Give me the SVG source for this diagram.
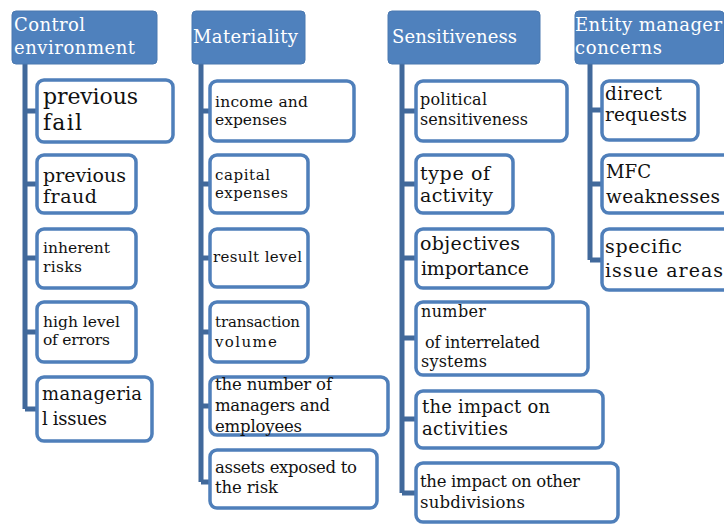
<svg xmlns="http://www.w3.org/2000/svg" width="724" height="525" viewBox="0 0 724 525">
<style>
.hd{fill:#4f81bd;stroke:#4a78b0;stroke-width:1}
.bx{fill:#fff;stroke:#4f7fba;stroke-width:3.5}
.ln{fill:none;stroke:#41699b;stroke-width:5}
text{font-family:"DejaVu Serif","Liberation Serif",serif}
.ht{font-size:18px;fill:#fff}
.t{fill:#111}
</style>
<rect width="724" height="525" fill="#fff"/>
<g id="connectors">
<path class="ln" d="M25 64V409M25 111H37M25 184H37M25 258H37M25 332H37M25 409H37"/>
<path class="ln" d="M201 64V482M201 111H210M201 184H210M201 258H210M201 332H210M201 406H210M201 482H210"/>
<path class="ln" d="M402 64V493M402 111H416M402 184H416M402 258H416M402 338H416M402 419H416M402 493H416"/>
<path class="ln" d="M590 64V260M590 110H602M590 184H602M590 260H602"/>
</g>
<g id="h1"><rect class="hd" x="12" y="11" width="145" height="53" rx="4"/><text class="ht" x="14" y="31" textLength="71" lengthAdjust="spacing">Control</text><text class="ht" x="14" y="54" textLength="121" lengthAdjust="spacing">environment</text></g>
<g id="h2"><rect class="hd" x="192" y="11" width="113" height="53" rx="4"/><text class="ht" x="193" y="43" textLength="105" lengthAdjust="spacing">Materiality</text></g>
<g id="h3"><rect class="hd" x="388" y="11" width="152" height="53" rx="4"/><text class="ht" x="392" y="43" textLength="125" lengthAdjust="spacing">Sensitiveness</text></g>
<g id="h4"><rect class="hd" x="575" y="11" width="149" height="53" rx="4"/><text class="ht" x="575" y="31" textLength="147" lengthAdjust="spacing">Entity manager</text><text class="ht" x="575" y="54" textLength="87" lengthAdjust="spacing">concerns</text></g>

<g id="c1a"><rect class="bx" x="37" y="80" width="136" height="62" rx="7"/><text class="t" font-size="22" x="43" y="104" textLength="95" lengthAdjust="spacing">previous</text><text class="t" font-size="22" x="43" y="130" textLength="39" lengthAdjust="spacing">fail</text></g>
<g id="c1b"><rect class="bx" x="37" y="155" width="99" height="58" rx="7"/><text class="t" font-size="19" x="43" y="182" textLength="83" lengthAdjust="spacing">previous</text><text class="t" font-size="19" x="43" y="203" textLength="54" lengthAdjust="spacing">fraud</text></g>
<g id="c1c"><rect class="bx" x="37" y="229" width="99" height="59" rx="7"/><text class="t" font-size="15.5" x="43" y="253" textLength="67" lengthAdjust="spacing">inherent</text><text class="t" font-size="15.5" x="43" y="272" textLength="39" lengthAdjust="spacing">risks</text></g>
<g id="c1d"><rect class="bx" x="37" y="302" width="99" height="60" rx="7"/><text class="t" font-size="15.5" x="43" y="327" textLength="77" lengthAdjust="spacing">high level</text><text class="t" font-size="15.5" x="43" y="345" textLength="67" lengthAdjust="spacing">of errors</text></g>
<g id="c1e"><rect class="bx" x="37" y="377" width="115" height="64" rx="7"/><text class="t" font-size="18" x="42" y="400" textLength="100" lengthAdjust="spacing">manageria</text><text class="t" font-size="18" x="42" y="425" textLength="65" lengthAdjust="spacing">l issues</text></g>

<g id="c2a"><rect class="bx" x="210" y="81" width="144" height="60" rx="7"/><text class="t" font-size="15.5" x="215" y="107" textLength="93" lengthAdjust="spacing">income and</text><text class="t" font-size="15.5" x="215" y="125" textLength="72" lengthAdjust="spacing">expenses</text></g>
<g id="c2b"><rect class="bx" x="210" y="155" width="98" height="58" rx="7"/><text class="t" font-size="15" x="215" y="180" textLength="55" lengthAdjust="spacing">capital</text><text class="t" font-size="15" x="215" y="198" textLength="73" lengthAdjust="spacing">expenses</text></g>
<g id="c2c"><rect class="bx" x="210" y="229" width="98" height="58" rx="7"/><text class="t" font-size="15" x="213" y="262" textLength="89" lengthAdjust="spacing">result level</text></g>
<g id="c2d"><rect class="bx" x="210" y="302" width="98" height="60" rx="7"/><text class="t" font-size="15" x="215" y="327" textLength="85" lengthAdjust="spacing">transaction</text><text class="t" font-size="15" x="215" y="347" textLength="62" lengthAdjust="spacing">volume</text></g>
<g id="c2e"><rect class="bx" x="210" y="377" width="178" height="58" rx="7"/><text class="t" font-size="16.5" x="215" y="390" textLength="117" lengthAdjust="spacing">the number of</text><text class="t" font-size="16.5" x="215" y="411" textLength="115" lengthAdjust="spacing">managers and</text><text class="t" font-size="16.5" x="215" y="432" textLength="87" lengthAdjust="spacing">employees</text></g>
<g id="c2f"><rect class="bx" x="210" y="450" width="167" height="58" rx="7"/><text class="t" font-size="16.5" x="215" y="473" textLength="142" lengthAdjust="spacing">assets exposed to</text><text class="t" font-size="16.5" x="215" y="493" textLength="63" lengthAdjust="spacing">the risk</text></g>

<g id="c3a"><rect class="bx" x="416" y="81" width="151" height="60" rx="7"/><text class="t" font-size="16" x="420" y="105" textLength="67" lengthAdjust="spacing">political</text><text class="t" font-size="16" x="420" y="125" textLength="108" lengthAdjust="spacing">sensitiveness</text></g>
<g id="c3b"><rect class="bx" x="416" y="155" width="97" height="58" rx="7"/><text class="t" font-size="19" x="420" y="180" textLength="70" lengthAdjust="spacing">type of</text><text class="t" font-size="19" x="420" y="202" textLength="73" lengthAdjust="spacing">activity</text></g>
<g id="c3c"><rect class="bx" x="416" y="229" width="137" height="59" rx="7"/><text class="t" font-size="19" x="420" y="250" textLength="100" lengthAdjust="spacing">objectives</text><text class="t" font-size="19" x="421" y="275" textLength="108" lengthAdjust="spacing">importance</text></g>
<g id="c3d"><rect class="bx" x="416" y="302" width="172" height="73" rx="7"/><text class="t" font-size="16" x="421" y="317" textLength="65" lengthAdjust="spacing">number</text><text class="t" font-size="16" x="425" y="348" textLength="115" lengthAdjust="spacing">of interrelated</text><text class="t" font-size="16" x="421" y="367" textLength="66" lengthAdjust="spacing">systems</text></g>
<g id="c3e"><rect class="bx" x="416" y="391" width="187" height="57" rx="7"/><text class="t" font-size="18" x="422" y="413" textLength="128" lengthAdjust="spacing">the impact on</text><text class="t" font-size="18" x="422" y="435" textLength="86" lengthAdjust="spacing">activities</text></g>
<g id="c3f"><rect class="bx" x="416" y="463" width="202" height="59" rx="7"/><text class="t" font-size="16.5" x="420" y="487" textLength="160" lengthAdjust="spacing">the impact on other</text><text class="t" font-size="16.5" x="420" y="508" textLength="105" lengthAdjust="spacing">subdivisions</text></g>

<g id="c4a"><rect class="bx" x="602" y="81" width="96" height="59" rx="7"/><text class="t" font-size="18.5" x="605" y="100" textLength="57" lengthAdjust="spacing">direct</text><text class="t" font-size="18.5" x="605" y="121" textLength="82" lengthAdjust="spacing">requests</text></g>
<g id="c4b"><rect class="bx" x="602" y="155" width="130" height="58" rx="7"/><text class="t" font-size="18" x="606" y="178" textLength="45" lengthAdjust="spacingAndGlyphs">MFC</text><text class="t" font-size="18.5" x="606" y="203" textLength="114" lengthAdjust="spacing">weaknesses</text></g>
<g id="c4c"><rect class="bx" x="602" y="229" width="130" height="61" rx="7"/><text class="t" font-size="19" x="605" y="253" textLength="77" lengthAdjust="spacing">specific</text><text class="t" font-size="19" x="605" y="277" textLength="118" lengthAdjust="spacing">issue areas</text></g>
</svg>
